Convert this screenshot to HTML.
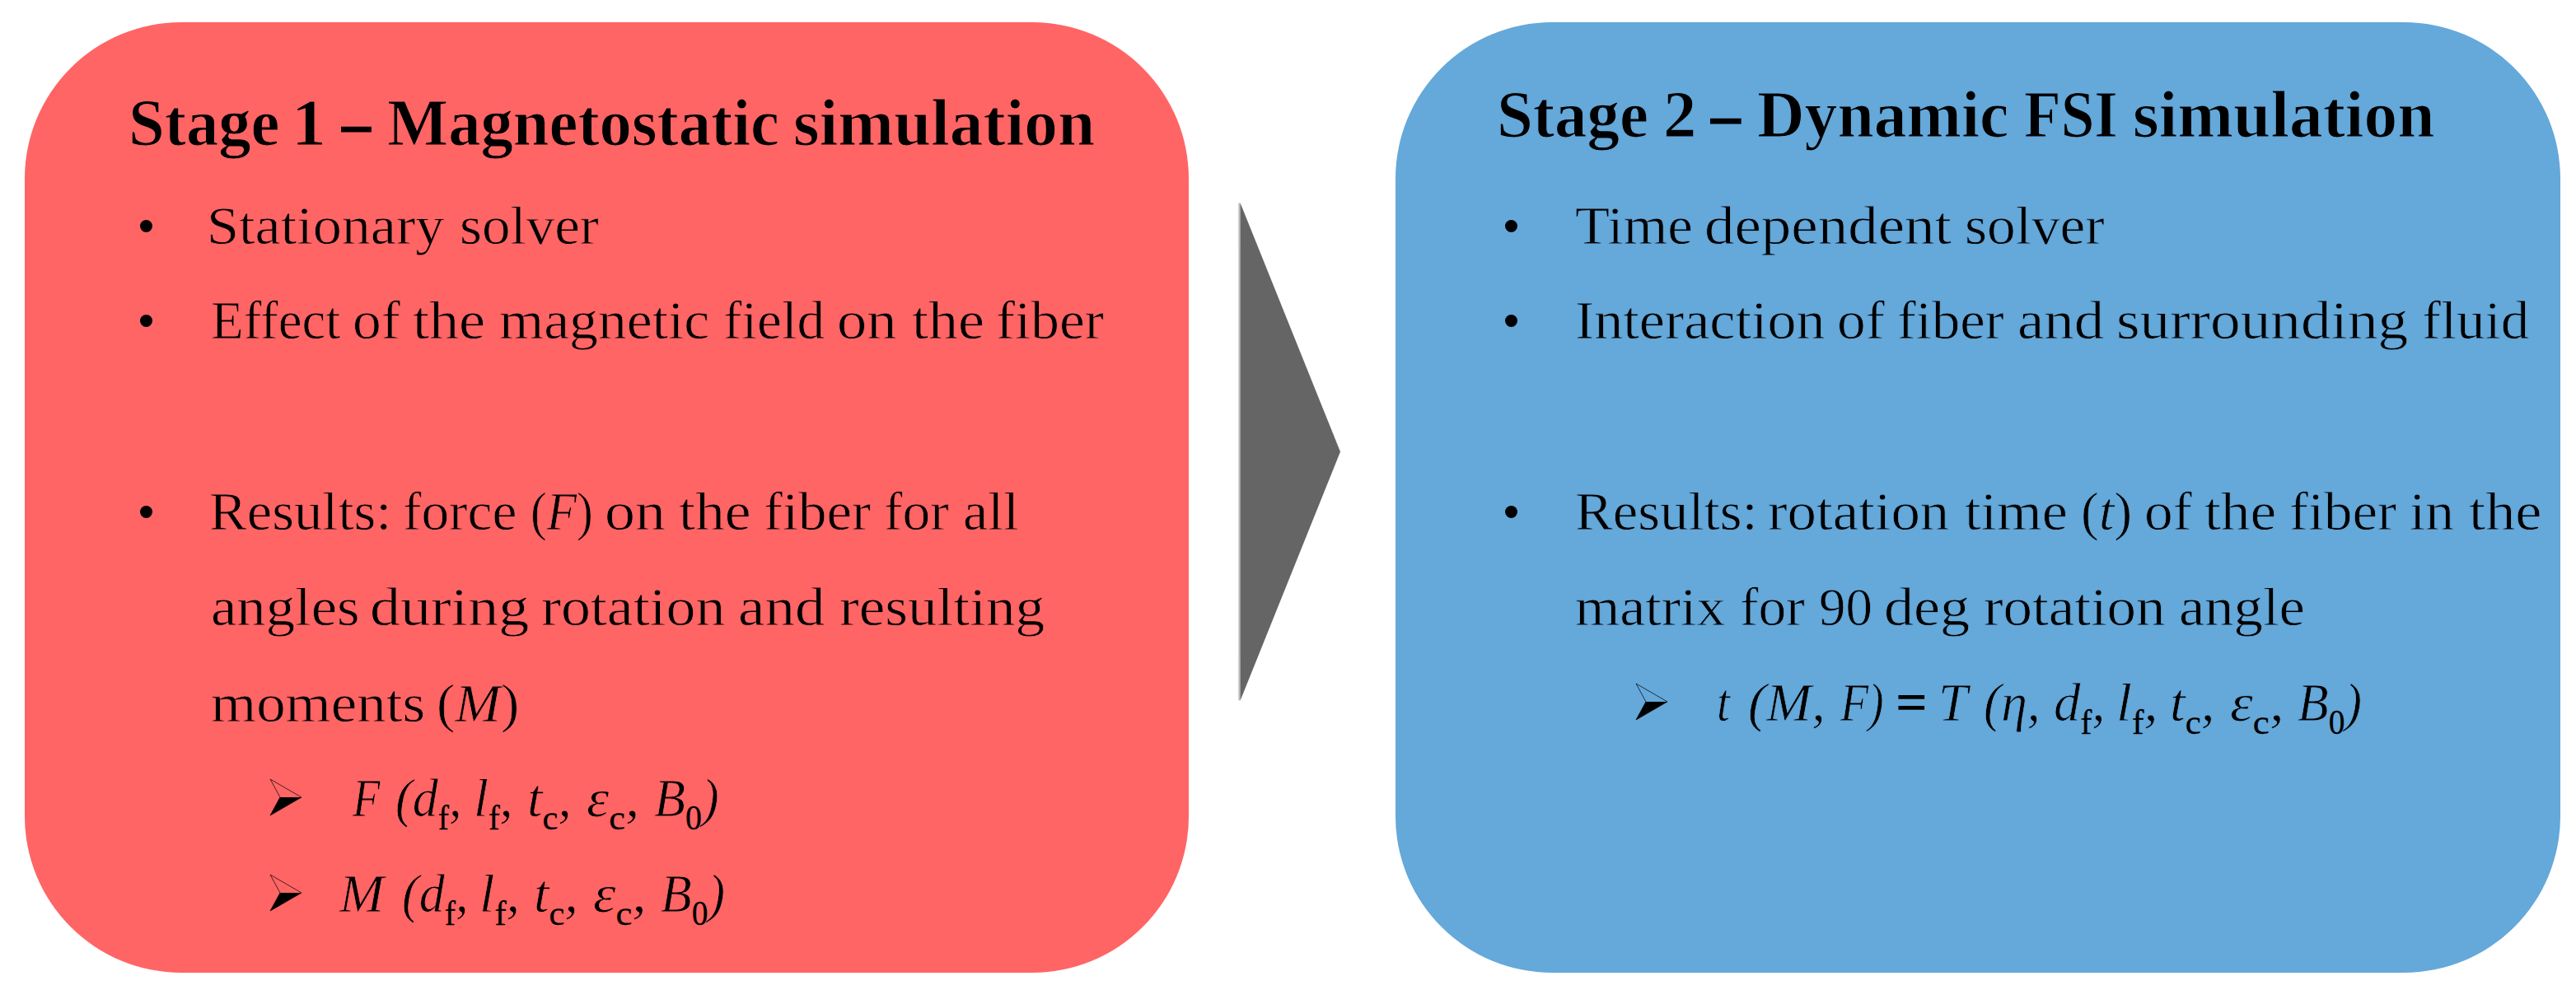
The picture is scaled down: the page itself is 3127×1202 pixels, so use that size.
<!DOCTYPE html>
<html lang="en"><head><meta charset="utf-8"><title>Two-stage simulation workflow</title>
<style>
html,body{margin:0;padding:0;background:#fff}
body{width:3127px;height:1202px;position:relative;overflow:hidden;font-family:"Liberation Serif","DejaVu Serif",serif;color:#000}
.box{position:absolute;top:26.5px;width:1413.3px;height:1154.5px;border-radius:190px}
#red{left:29.8px;background:#ff6565}
#blue{left:1694.4px;background:#65a8da}
#arrow{position:absolute;left:0;top:0}
.ln{position:absolute;left:0;width:3127px;height:0;line-height:0;margin:0;padding:0;white-space:nowrap}
.w{position:absolute;top:0;display:block;white-space:nowrap;line-height:0;transform-origin:0 0}
.ln{-webkit-text-stroke:0.8px var(--bg)}
.h{font-weight:bold}
.h{-webkit-text-stroke:1.2px var(--bg)}
.d{-webkit-text-stroke:1.2px #000}
.eq{-webkit-text-stroke:1.6px #000}
i{font-style:italic}
.sb{font-size:64%;position:relative;top:0.376em;font-style:normal;-webkit-text-stroke:0.3px #000}
.sb.i{font-style:italic}
.dot{position:absolute;width:15px;height:15px;border-radius:50%;background:#000}
.ah{position:absolute;width:40px;height:46px}
</style></head><body>
<div class="box" id="red"></div>
<div class="box" id="blue"></div>
<svg id="arrow" width="3127" height="1202" viewBox="0 0 3127 1202"><rect x="1503.4" y="246.6" width="2.4" height="603.8" fill="#656565" fill-opacity="0.45"/><polygon points="1505.6,246.5 1627,548.5 1505.6,850.5" fill="#656565"/></svg>
<div class="dot" style="left:169.7px;top:266.9px"></div>
<div class="dot" style="left:169.7px;top:381.9px"></div>
<div class="dot" style="left:169.7px;top:613.9px"></div>
<div class="dot" style="left:1826.7px;top:266.9px"></div>
<div class="dot" style="left:1826.7px;top:381.9px"></div>
<div class="dot" style="left:1826.7px;top:613.9px"></div>
<svg class="ah" style="left:326.7px;top:944.9px" viewBox="0 0 40 46"><path d="M1 1 L39 23 L1 45 L13 23 Z" fill="none" stroke="#000" stroke-width="1" stroke-opacity="0.7"/><path d="M39 23 L1 45 L13 23 Z" fill="#000"/></svg>
<svg class="ah" style="left:326.7px;top:1060.9px" viewBox="0 0 40 46"><path d="M1 1 L39 23 L1 45 L13 23 Z" fill="none" stroke="#000" stroke-width="1" stroke-opacity="0.7"/><path d="M39 23 L1 45 L13 23 Z" fill="#000"/></svg>
<svg class="ah" style="left:1984.6px;top:829.0px" viewBox="0 0 40 46"><path d="M1 1 L39 23 L1 45 L13 23 Z" fill="none" stroke="#000" stroke-width="1" stroke-opacity="0.7"/><path d="M39 23 L1 45 L13 23 Z" fill="#000"/></svg>
<div class="ln h" id="h1" style="--bg:#ff6565;top:149.00px;font-size:80.0px">
<span class="w" style="left:156.17px;transform:scaleX(0.9829)">Stage</span> <span class="w" style="left:354.40px;transform:scaleX(1.0500)">1</span> <span class="w" style="left:414.57px;transform:scaleX(0.8714)"><span class="d">–</span></span> <span class="w" style="left:469.52px;transform:scaleX(0.9827)">Magnetostatic</span> <span class="w" style="left:963.25px;transform:scaleX(1.0169)">simulation</span>
</div>
<div class="ln " id="a1" style="--bg:#ff6565;top:274.00px;font-size:66.5px">
<span class="w" style="left:251.42px;transform:scaleX(1.0552)">Stationary</span> <span class="w" style="left:558.08px;transform:scaleX(1.0390)">solver</span>
</div>
<div class="ln " id="a2" style="--bg:#ff6565;top:389.00px;font-size:66.5px">
<span class="w" style="left:255.75px;transform:scaleX(0.9755)">Effect</span> <span class="w" style="left:427.87px;transform:scaleX(1.0442)">of</span> <span class="w" style="left:501.32px;transform:scaleX(1.0846)">the</span> <span class="w" style="left:606.05px;transform:scaleX(1.0473)">magnetic</span> <span class="w" style="left:877.78px;transform:scaleX(1.0109)">field</span> <span class="w" style="left:1016.33px;transform:scaleX(1.0903)">on</span> <span class="w" style="left:1106.82px;transform:scaleX(1.0833)">the</span> <span class="w" style="left:1209.22px;transform:scaleX(1.0423)">fiber</span>
</div>
<div class="ln " id="a3" style="--bg:#ff6565;top:621.00px;font-size:66.5px">
<span class="w" style="left:254.34px;transform:scaleX(1.0324)">Results:</span> <span class="w" style="left:489.07px;transform:scaleX(1.0129)">force</span> <span class="w" style="left:643.62px;transform:scaleX(0.8937)">(<i>F</i>)</span> <span class="w" style="left:734.27px;transform:scaleX(1.1113)">on</span> <span class="w" style="left:823.92px;transform:scaleX(1.0769)">the</span> <span class="w" style="left:926.63px;transform:scaleX(1.0358)">fiber</span> <span class="w" style="left:1072.97px;transform:scaleX(1.0160)">for</span> <span class="w" style="left:1168.86px;transform:scaleX(1.0222)">all</span>
</div>
<div class="ln " id="a4" style="--bg:#ff6565;top:737.00px;font-size:66.5px">
<span class="w" style="left:255.58px;transform:scaleX(1.0624)">angles</span> <span class="w" style="left:448.66px;transform:scaleX(1.1124)">during</span> <span class="w" style="left:656.52px;transform:scaleX(1.0800)">rotation</span> <span class="w" style="left:895.70px;transform:scaleX(1.0989)">and</span> <span class="w" style="left:1018.53px;transform:scaleX(1.0704)">resulting</span>
</div>
<div class="ln " id="a5" style="--bg:#ff6565;top:854.00px;font-size:66.5px">
<span class="w" style="left:255.73px;transform:scaleX(1.0663)">moments</span> <span class="w" style="left:530.28px;transform:scaleX(1.0053)">(<i>M</i>)</span>
</div>
<div class="ln m" id="a6" style="--bg:#ff6565;top:969.00px;font-size:66.5px">
<span class="w" style="left:427.60px;transform:scaleX(0.8220)"><i>F</i></span> <span class="w" style="left:479.83px;transform:scaleX(0.9325)"><i>(d<span class="sb">f</span>,</i></span> <span class="w" style="left:575.33px;transform:scaleX(0.9683)"><i>l<span class="sb">f</span>,</i></span> <span class="w" style="left:640.01px;transform:scaleX(0.9979)"><i>t<span class="sb">c</span>,</i></span> <span class="w" style="left:711.92px;transform:scaleX(1.0400)"><i>ε<span class="sb">c</span>,</i></span> <span class="w" style="left:793.66px;transform:scaleX(0.9358)"><i>B<span class="sb">0</span>)</i></span>
</div>
<div class="ln m" id="a7" style="--bg:#ff6565;top:1085.00px;font-size:66.5px">
<span class="w" style="left:411.68px;transform:scaleX(0.9797)"><i>M</i></span> <span class="w" style="left:488.24px;transform:scaleX(0.9325)"><i>(d<span class="sb">f</span>,</i></span> <span class="w" style="left:582.41px;transform:scaleX(0.9976)"><i>l<span class="sb">f</span>,</i></span> <span class="w" style="left:648.41px;transform:scaleX(0.9979)"><i>t<span class="sb">c</span>,</i></span> <span class="w" style="left:720.30px;transform:scaleX(1.0491)"><i>ε<span class="sb">c</span>,</i></span> <span class="w" style="left:801.57px;transform:scaleX(0.9272)"><i>B<span class="sb">0</span>)</i></span>
</div>
<div class="ln h" id="h2" style="--bg:#65a8da;top:139.00px;font-size:80.0px">
<span class="w" style="left:1817.46px;transform:scaleX(0.9856)">Stage</span> <span class="w" style="left:2018.97px;transform:scaleX(1.0091)">2</span> <span class="w" style="left:2077.09px;transform:scaleX(0.8905)"><span class="d">–</span></span> <span class="w" style="left:2133.20px;transform:scaleX(0.9961)">Dynamic</span> <span class="w" style="left:2457.49px;transform:scaleX(0.9132)">FSI</span> <span class="w" style="left:2589.25px;transform:scaleX(1.0177)">simulation</span>
</div>
<div class="ln " id="b1" style="--bg:#65a8da;top:274.00px;font-size:66.5px">
<span class="w" style="left:1911.57px;transform:scaleX(1.0341)">Time</span> <span class="w" style="left:2069.31px;transform:scaleX(1.0970)">dependent</span> <span class="w" style="left:2384.67px;transform:scaleX(1.0428)">solver</span>
</div>
<div class="ln " id="b2" style="--bg:#65a8da;top:389.00px;font-size:66.5px">
<span class="w" style="left:1911.79px;transform:scaleX(1.0537)">Interaction</span> <span class="w" style="left:2230.47px;transform:scaleX(1.0423)">of</span> <span class="w" style="left:2303.44px;transform:scaleX(1.0317)">fiber</span> <span class="w" style="left:2448.51px;transform:scaleX(1.0935)">and</span> <span class="w" style="left:2569.29px;transform:scaleX(1.1022)">surrounding</span> <span class="w" style="left:2940.13px;transform:scaleX(1.0358)">fluid</span>
</div>
<div class="ln " id="b3" style="--bg:#65a8da;top:621.00px;font-size:66.5px">
<span class="w" style="left:1911.83px;transform:scaleX(1.0338)">Results:</span> <span class="w" style="left:2146.24px;transform:scaleX(1.0649)">rotation</span> <span class="w" style="left:2384.64px;transform:scaleX(1.0565)">time</span> <span class="w" style="left:2525.74px;transform:scaleX(0.9877)">(<i>t</i>)</span> <span class="w" style="left:2602.57px;transform:scaleX(1.0423)">of</span> <span class="w" style="left:2676.03px;transform:scaleX(1.0744)">the</span> <span class="w" style="left:2778.53px;transform:scaleX(1.0358)">fiber</span> <span class="w" style="left:2924.55px;transform:scaleX(1.0460)">in</span> <span class="w" style="left:2996.51px;transform:scaleX(1.0897)">the</span>
</div>
<div class="ln " id="b4" style="--bg:#65a8da;top:737.00px;font-size:66.5px">
<span class="w" style="left:1912.05px;transform:scaleX(1.0506)">matrix</span> <span class="w" style="left:2112.47px;transform:scaleX(1.0160)">for</span> <span class="w" style="left:2207.95px;transform:scaleX(0.9758)">90</span> <span class="w" style="left:2286.65px;transform:scaleX(1.0848)">deg</span> <span class="w" style="left:2407.73px;transform:scaleX(1.0659)">rotation</span> <span class="w" style="left:2644.88px;transform:scaleX(1.0614)">angle</span>
</div>
<div class="ln m" id="b5" style="--bg:#65a8da;top:853.00px;font-size:66.5px">
<span class="w" style="left:2084.42px;transform:scaleX(0.8588)"><i>t</i></span> <span class="w" style="left:2122.21px;transform:scaleX(0.9955)"><i>(M,</i></span> <span class="w" style="left:2234.40px;transform:scaleX(0.8400)"><i>F)</i></span> <span class="w" style="left:2301.88px;transform:scaleX(0.9719)"><span class="eq">=</span></span> <span class="w" style="left:2352.99px;transform:scaleX(0.9611)"><i>T</i></span> <span class="w" style="left:2407.69px;transform:scaleX(0.9561)"><i>(η,</i></span> <span class="w" style="left:2492.65px;transform:scaleX(0.9759)"><i>d<span class="sb">f</span>,</i></span> <span class="w" style="left:2568.90px;transform:scaleX(1.0244)"><i>l<span class="sb">f</span>,</i></span> <span class="w" style="left:2633.87px;transform:scaleX(1.0085)"><i>t<span class="sb">c</span>,</i></span> <span class="w" style="left:2706.68px;transform:scaleX(1.0618)"><i>ε<span class="sb">c</span>,</i></span> <span class="w" style="left:2789.27px;transform:scaleX(0.9272)"><i>B<span class="sb">0</span>)</i></span>
</div>
</body></html>
